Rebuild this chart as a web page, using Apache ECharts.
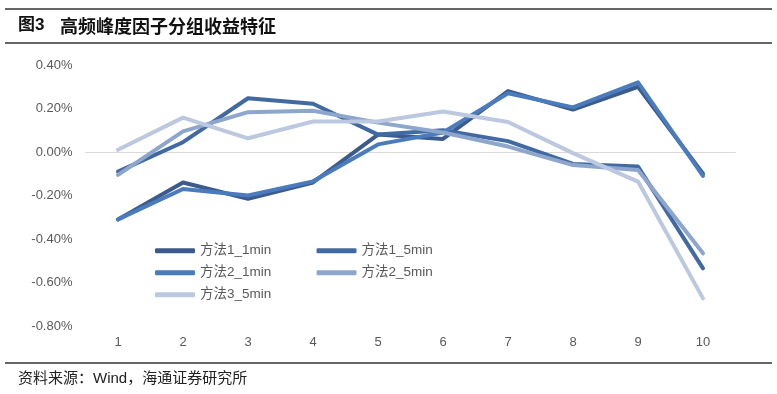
<!DOCTYPE html>
<html>
<head>
<meta charset="utf-8">
<script src="https://cdn.jsdelivr.net/npm/echarts@6/dist/echarts.min.js"></script>
<style>
html,body{margin:0;padding:0;background:#fff;}
#chart{width:777px;height:394px;}
</style>
</head>
<body>
<div id="chart"></div>
<script>
var categories = ['1','2','3','4','5','6','7','8','9','10'];
var seriesNames = ['方法1_1min','方法1_5min','方法2_1min','方法2_5min','方法3_5min'];
var m1_1min = [-0.31, -0.14, -0.215, -0.14, 0.08, 0.06, 0.28, 0.195, 0.30, -0.10];
var m1_5min = [-0.09, 0.045, 0.247, 0.222, 0.08, 0.10, 0.05, -0.055, -0.067, -0.535];
var m2_1min = [-0.31, -0.17, -0.20, -0.135, 0.035, 0.09, 0.27, 0.205, 0.32, -0.11];
var m2_5min = [-0.105, 0.095, 0.183, 0.19, 0.135, 0.09, 0.025, -0.06, -0.083, -0.466];
var m3_5min = [0.01, 0.158, 0.063, 0.14, 0.14, 0.186, 0.138, -0.005, -0.136, -0.673];
var seriesColors = ['#3b5b8c', '#4169a2', '#4a7bbd', '#8da6cc', '#bcc8df'];
var titleNum = '图3';
var titleText = '高频峰度因子分组收益特征';
var sourceText = '资料来源：Wind，海通证券研究所';

var dataList = [m1_1min, m1_5min, m2_1min, m2_5min, m3_5min];
var FONT = '"Liberation Sans", "Noto Sans CJK SC", sans-serif';

var chart = echarts.init(document.getElementById('chart'), null, {renderer: 'canvas'});
var series = seriesNames.map(function (n, i) {
  return {
    name: n,
    type: 'line',
    data: dataList[i],
    showSymbol: false,
    symbol: 'none',
    smooth: false,
    lineStyle: {width: 4, color: seriesColors[i], cap: 'round', join: 'round'},
    itemStyle: {color: seriesColors[i]},
    emphasis: {disabled: true},
    z: 2 + i
  };
});

var legendCommon = {
  orient: 'vertical',
  icon: 'roundRect',
  itemWidth: 40,
  itemHeight: 5,
  itemGap: 8.5,
  textStyle: {fontSize: 13.5, color: '#595959', fontFamily: FONT},
  selectedMode: false
};

chart.setOption({
  animation: false,
  backgroundColor: '#fff',
  grid: {left: 85.5, right: 41.5, top: 65, bottom: 68, containLabel: false},
  legend: [
    Object.assign({}, legendCommon, {left: 150, top: 239, data: ['方法1_1min','方法2_1min','方法3_5min']}),
    Object.assign({}, legendCommon, {left: 311.5, top: 239, data: ['方法1_5min','方法2_5min']})
  ],
  xAxis: {
    type: 'category',
    data: categories,
    boundaryGap: true,
    axisLine: {show: true, onZero: true, lineStyle: {color: '#d9d9d9', width: 1}},
    axisTick: {show: false},
    axisLabel: {color: '#595959', fontSize: 13, fontFamily: FONT, margin: 10, interval: 0},
    splitLine: {show: false}
  },
  yAxis: {
    type: 'value',
    min: -0.8,
    max: 0.4,
    interval: 0.2,
    axisLine: {show: false},
    axisTick: {show: false},
    splitLine: {show: false},
    axisLabel: {
      color: '#595959', fontSize: 13, fontFamily: FONT, margin: 13,
      formatter: function (v) { return v.toFixed(2) + '%'; }
    }
  },
  series: series,
  graphic: [
    {type: 'line', shape: {x1: 5, y1: 9, x2: 772, y2: 9}, style: {stroke: '#333', lineWidth: 1.5}},
    {type: 'line', shape: {x1: 5, y1: 43, x2: 772, y2: 43}, style: {stroke: '#333', lineWidth: 1.5}},
    {type: 'text', left: 18, top: 17, style: {text: titleNum, font: 'bold 17px ' + FONT, fill: '#111'}},
    {type: 'text', left: 60, top: 17, style: {text: titleText, font: 'bold 18px "Noto Sans CJK SC", sans-serif', fill: '#111'}},
    {type: 'line', shape: {x1: 5, y1: 363, x2: 772, y2: 363}, style: {stroke: '#333', lineWidth: 1.5}},
    {type: 'text', left: 18, top: 371, style: {text: sourceText, font: '15px ' + FONT, fill: '#222'}}
  ]
});
</script>
</body>
</html>
